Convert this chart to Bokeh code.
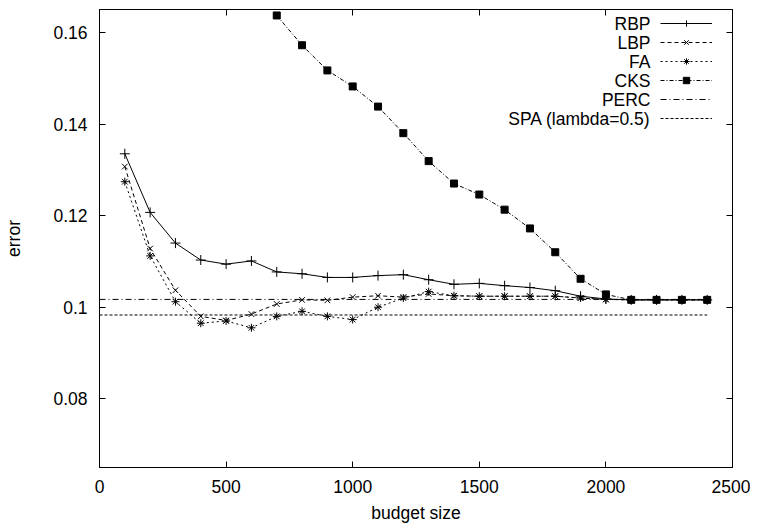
from bokeh.plotting import figure
from bokeh.models import (Range1d, FixedTicker, LinearAxis, Legend, LegendItem, Label,
                          CustomLabelingPolicy)
from bokeh.embed import file_html
from bokeh.resources import INLINE

# ---------------- data ----------------
budget = [100, 200, 300, 400, 500, 600, 700, 800, 900, 1000, 1100, 1200,
          1300, 1400, 1500, 1600, 1700, 1800, 1900, 2000, 2100, 2200, 2300, 2400]
rbp = [0.1335, 0.1207, 0.1140, 0.1103, 0.1094, 0.1101, 0.1077, 0.1073, 0.1065, 0.1065,
       0.1069, 0.1071, 0.1060, 0.1050, 0.1052, 0.1047, 0.1043, 0.1036, 0.1024, 0.1018,
       0.1016, 0.1016, 0.1016, 0.1016]
lbp = [0.1307, 0.1128, 0.1037, 0.0980, 0.0971, 0.0985, 0.1007, 0.1016, 0.1015, 0.1022,
       0.1025, 0.1022, 0.1029, 0.1025, 0.1024, 0.1024, 0.1024, 0.1024, 0.1020, 0.1017,
       0.1016, 0.1016, 0.1016, 0.1016]
fa = [0.1274, 0.1112, 0.1012, 0.0965, 0.0970, 0.0955, 0.0980, 0.0991, 0.0980, 0.0973,
      0.1000, 0.1020, 0.1034, 0.1025, 0.1024, 0.1024, 0.1024, 0.1024, 0.1020, 0.1017,
      0.1016, 0.1016, 0.1016, 0.1016]
cks_budget = [700, 800, 900, 1000, 1100, 1200, 1300, 1400, 1500, 1600, 1700, 1800,
              1900, 2000, 2100, 2200, 2300, 2400]
cks = [0.1637, 0.1572, 0.1517, 0.1482, 0.1438, 0.1380, 0.1319, 0.1270, 0.1246, 0.1213,
       0.1172, 0.1120, 0.1062, 0.1028, 0.1016, 0.1016, 0.1016, 0.1016]
ref_budget = [0, 2400]
perc = [0.1017, 0.1017]
spa = [0.0983, 0.0983]

series_names = ["RBP", "LBP", "FA", "CKS", "PERC", "SPA (lambda=0.5)"]

x_ticks = [0, 500, 1000, 1500, 2000, 2500]
y_ticks = [0.08, 0.10, 0.12, 0.14, 0.16]
y_tick_labels = ["0.08", "0.1", "0.12", "0.14", "0.16"]

# ---------------- style ----------------
FONT = "Liberation Sans"
FS = "17.5px"

p = figure(width=750, height=525, output_backend="svg", toolbar_location=None,
           x_range=Range1d(0, 2500), y_range=Range1d(0.065, 0.165),
           min_border_left=99, min_border_right=18, min_border_top=9,
           min_border_bottom=58)
p.grid.visible = False
p.outline_line_color = "black"
p.outline_line_width = 1
p.background_fill_color = "white"
p.border_fill_color = "white"

no_labels = CustomLabelingPolicy(code="for (const i of indices) { if (false) yield i }")

def style_axis(ax, show_labels=True):
    ax.axis_line_color = "black"
    ax.major_tick_line_color = "black"
    ax.major_tick_in = 6
    ax.major_tick_out = 0
    ax.minor_tick_in = 0
    ax.minor_tick_out = 0
    ax.major_label_text_font = FONT
    ax.major_label_text_font_size = FS if show_labels else "1px"
    ax.major_label_text_color = "black"
    ax.major_label_standoff = 12 if show_labels else 0
    ax.axis_label_text_font = FONT
    ax.axis_label_text_font_size = FS
    ax.axis_label_text_font_style = "normal"
    ax.axis_label_text_color = "black"
    if not show_labels:
        ax.major_label_policy = no_labels

xax = p.xaxis[0]
xax.ticker = FixedTicker(ticks=x_ticks)
xax.axis_label = "budget size"
style_axis(xax)
xax.axis_label_standoff = 7

yax = p.yaxis[0]
yax.ticker = FixedTicker(ticks=y_ticks)
yax.major_label_overrides = {v: s for v, s in zip(y_ticks, y_tick_labels)}
yax.axis_label = "error"
style_axis(yax)
yax.axis_label_standoff = 26

top_ax = LinearAxis(ticker=FixedTicker(ticks=x_ticks))
style_axis(top_ax, show_labels=False)
p.add_layout(top_ax, "above")
right_ax = LinearAxis(ticker=FixedTicker(ticks=y_ticks))
style_axis(right_ax, show_labels=False)
p.add_layout(right_ax, "right")

# ---------------- glyphs ----------------
r1l = p.line(budget, rbp, line_color="black", line_width=1)
r1p = p.scatter(budget, rbp, marker="cross", size=10, line_color="black", fill_color=None)
r2l = p.line(budget, lbp, line_color="black", line_width=1, line_dash="4 3")
r2p = p.scatter(budget, lbp, marker="x", size=8, line_color="black", fill_color=None)
r3l = p.line(budget, fa, line_color="black", line_width=1, line_dash="2 3")
r3p = p.scatter(budget, fa, marker="asterisk", size=8, line_color="black", fill_color=None)
r4l = p.line(cks_budget, cks, line_color="black", line_width=1, line_dash="4 2 1 2")
r4p = p.scatter(cks_budget, cks, marker="square", size=7, line_color="black", fill_color="black")
r5l = p.line(ref_budget, perc, line_color="black", line_width=1, line_dash="6 3 1 3")
r6l = p.line(ref_budget, spa, line_color="black", line_width=1, line_dash="3 2")

renderer_groups = [[r1l, r1p], [r2l, r2p], [r3l, r3p], [r4l, r4p], [r5l], [r6l]]

# ---------------- gnuplot-style legend: samples via Legend, names via Labels ----------------
row_h = 16
row_gap = 3
first_center = 14          # px below frame top
frame_h = 467 - 9
legend_h = len(series_names) * row_h + (len(series_names) - 1) * row_gap
legend = Legend(items=[LegendItem(label="", renderers=g) for g in renderer_groups],
                location=(561, frame_h - (first_center - row_h / 2) - legend_h),
                glyph_width=52, glyph_height=row_h, label_height=row_h, label_width=0,
                label_standoff=0, spacing=row_gap, padding=0, margin=0,
                label_text_font_size="10px",
                border_line_color=None, background_fill_alpha=0)
p.add_layout(legend)

for i, name in enumerate(series_names):
    cy = frame_h - first_center - i * (row_h + row_gap)
    p.add_layout(Label(x=551, y=cy, x_units="screen", y_units="screen", text=name,
                       text_align="right", text_baseline="middle",
                       text_font=FONT, text_font_size=FS, text_color="black"))

open("out.html", "w").write(file_html(p, INLINE))
